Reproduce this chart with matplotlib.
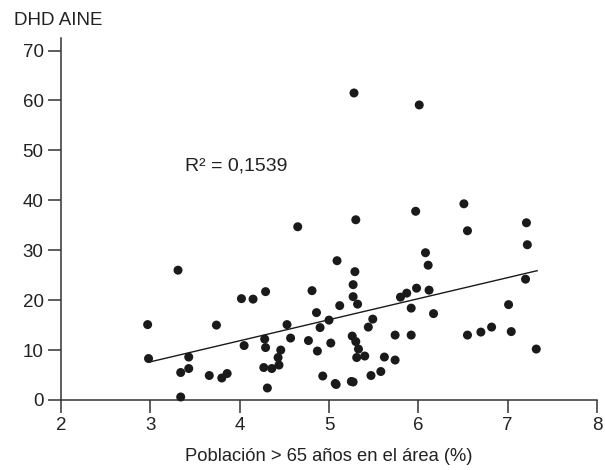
import numpy as np
import matplotlib
matplotlib.use("Agg")
import matplotlib.pyplot as plt

plt.rcParams['font.family'] = ['Liberation Sans', 'DejaVu Sans']

# poblacion > 65 anos (%) frente a DHD AINE
pob65 = [3.31, 2.97, 2.98, 3.43, 3.34, 3.43, 3.34, 3.66, 3.80, 3.86,
         3.74, 4.02, 4.15, 4.29, 4.05, 4.28, 4.29, 4.27, 4.36, 4.44,
         4.43, 4.46, 4.31, 4.53, 4.57, 4.81, 4.86, 4.90, 4.77, 4.87,
         4.93, 5.00, 5.02, 5.09, 5.29, 5.27, 5.27, 5.32, 5.12, 5.26,
         5.30, 5.33, 5.31, 5.40, 5.49, 5.44, 5.07, 5.25, 5.47, 5.58,
         5.62, 5.74, 5.74, 5.92, 5.92, 5.80, 5.87, 5.98, 6.12, 6.17,
         6.11, 6.08, 6.51, 6.55, 7.21, 7.22, 7.20, 7.01, 6.55, 6.70,
         6.82, 7.04, 7.32, 5.28, 6.01, 4.65, 5.30, 5.97, 5.08, 5.27]
dhd = [26.0, 15.1, 8.3, 8.6, 5.5, 6.3, 0.6, 4.9, 4.4, 5.3,
       15.0, 20.3, 20.2, 21.7, 10.9, 12.2, 10.5, 6.5, 6.3, 7.0,
       8.5, 10.0, 2.4, 15.1, 12.4, 21.9, 17.5, 14.5, 11.9, 9.8,
       4.8, 16.0, 11.4, 27.9, 25.7, 23.1, 20.7, 19.2, 18.9, 12.8,
       11.7, 10.2, 8.5, 8.8, 16.2, 14.6, 3.3, 3.7, 4.9, 5.7,
       8.6, 8.0, 13.0, 13.0, 18.4, 20.6, 21.4, 22.4, 22.0, 17.3,
       27.0, 29.5, 39.3, 33.9, 35.5, 31.1, 24.2, 19.1, 13.0, 13.6,
       14.6, 13.7, 10.2, 61.5, 59.1, 34.7, 36.1, 37.8, 3.1, 3.6]

# recta de tendencia
trend_x = [2.99, 7.33]
trend_y = [7.6, 25.9]

fig = plt.figure(figsize=(6.05, 4.70), dpi=100)
ax = fig.add_axes([0.1008, 0.149, 0.886, 0.770])

ax.scatter(pob65, dhd, s=42, color='#1a1a1a', edgecolors='none', zorder=3, clip_on=False)
ax.plot(trend_x, trend_y, color='#1a1a1a', lw=1.0, zorder=2)

ax.set_xlim(2, 8)
ax.set_ylim(0, 72.5)
ax.set_xticks(range(2, 9))
ax.set_yticks(range(0, 71, 10))

for s in ['top', 'right']:
    ax.spines[s].set_visible(False)
for s in ['left', 'bottom']:
    ax.spines[s].set_color('#333333')
    ax.spines[s].set_linewidth(1.1)

ax.tick_params(axis='both', direction='out', length=9.5, width=1.1, color='#333333',
               labelsize=13.5, labelcolor='#222222', pad=3)

ax.set_xlabel('Población > 65 años en el área (%)', fontsize=13.2, color='#222222', labelpad=10)
fig.text(0.023, 0.947, 'DHD AINE', fontsize=13.5, color='#222222', va='baseline', ha='left')
ax.text(3.39, 45.95, 'R² = 0,1539', fontsize=14, color='#222222', va='baseline', ha='left')

fig.savefig('out.png', dpi=100)
